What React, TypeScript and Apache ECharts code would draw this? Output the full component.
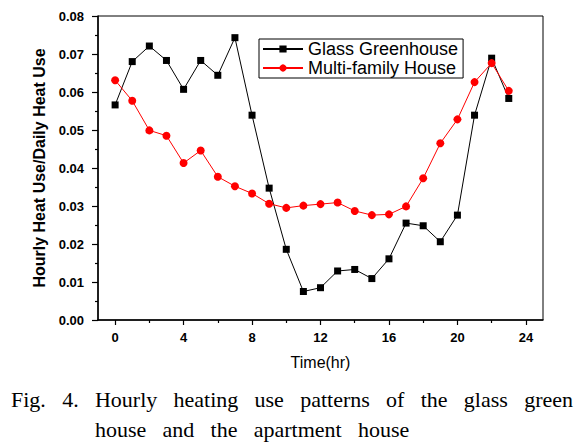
import React, { useEffect, useRef } from "react";
import * as echarts from "echarts";

const hours = [0, 1, 2, 3, 4, 5, 6, 7, 8, 9, 10, 11, 12, 13, 14, 15, 16, 17, 18, 19, 20, 21, 22, 23];
const glassGreenhouse = [
  0.0566, 0.068, 0.0721, 0.0683, 0.0607, 0.0683, 0.0644, 0.0743, 0.0539, 0.0347, 0.0186, 0.0075,
  0.0085, 0.0129, 0.0133, 0.0109, 0.0161, 0.0255, 0.0248, 0.0206, 0.0276, 0.0539, 0.0689, 0.0583,
];
const multiFamily = [
  0.0631, 0.0577, 0.0499, 0.0485, 0.0413, 0.0446, 0.0377, 0.0352, 0.0333, 0.0306, 0.0295, 0.0301,
  0.0305, 0.0309, 0.0287, 0.0276, 0.0278, 0.0299, 0.0373, 0.0465, 0.0528, 0.0626, 0.0676, 0.0603,
];
const xTickLabels = [0, 4, 8, 12, 16, 20, 24];
const xMinorTicks = [2, 6, 10, 14, 18, 22];
const seriesNames = ["Glass Greenhouse", "Multi-family House"];
const xTitle = "Time(hr)";
const yTitle = "Hourly Heat Use/Daily Heat Use";
const captionLine1 = ["Fig.", "4.", "Hourly", "heating", "use", "patterns", "of", "the", "glass", "green"];
const captionLine2 = ["house", "and", "the", "apartment", "house"];

const SANS = '"Liberation Sans", Arial, sans-serif';
const SERIF = '"Liberation Serif", "Times New Roman", serif';

function captionGraphics() {
  const fontSize = 22;
  const canvas = document.createElement("canvas");
  const ctx = canvas.getContext("2d")!;
  ctx.font = `${fontSize}px ${SERIF}`;
  const w1 = captionLine1.map((w) => ctx.measureText(w).width);
  const start1 = 11;
  const end1 = 573;
  const total1 = w1.reduce((a, b) => a + b, 0);
  const gap = (end1 - start1 - total1) / (captionLine1.length - 1);
  const els: any[] = [];
  let x = start1;
  let hourlyX = 92;
  captionLine1.forEach((w, i) => {
    if (i === 2) hourlyX = x;
    els.push({
      type: "text",
      x,
      y: 399,
      style: { text: w, fontSize, fontFamily: SERIF, fill: "#000", verticalAlign: "middle" },
    });
    x += w1[i] + gap;
  });
  x = hourlyX;
  captionLine2.forEach((w) => {
    els.push({
      type: "text",
      x,
      y: 429,
      style: { text: w, fontSize, fontFamily: SERIF, fill: "#000", verticalAlign: "middle" },
    });
    x += ctx.measureText(w).width + gap;
  });
  return els;
}

export default function App() {
  const ref = useRef<HTMLDivElement>(null);
  useEffect(() => {
    if (!ref.current) return;
    const chart = echarts.init(ref.current, null, { renderer: "svg" });
    const option: any = {
      animation: false,
      backgroundColor: "#fff",
      grid: {
        left: 98,
        top: 16,
        right: 44,
        bottom: 126,
        show: true,
        borderColor: "#000",
        borderWidth: 1,
        backgroundColor: "transparent",
      },
      legend: {
        orient: "vertical",
        left: 259,
        top: 39,
        data: seriesNames,
        borderColor: "#000",
        borderWidth: 1,
        backgroundColor: "#fff",
        padding: [1, 5, 1, 3],
        itemGap: 1,
        itemWidth: 40,
        itemHeight: 9,
        textStyle: { fontSize: 18, fontFamily: SANS, color: "#000" },
      },
      xAxis: [
        {
          type: "value",
          min: -1,
          max: 25,
          name: xTitle,
          nameLocation: "middle",
          nameGap: 34,
          nameTextStyle: { fontSize: 16, fontFamily: SANS, color: "#000" },
          axisLine: { show: true, onZero: false, lineStyle: { color: "#000", width: 1.5 } },
          axisTick: { show: true, inside: false, length: 5, customValues: xTickLabels, lineStyle: { color: "#000", width: 1.2 } },
          axisLabel: {
            customValues: xTickLabels,
            margin: 11,
            fontSize: 13,
            fontWeight: "bold",
            fontFamily: SANS,
            color: "#000",
          },
          splitLine: { show: false },
        },
        {
          type: "value",
          min: -1,
          max: 25,
          position: "bottom",
          axisLine: { show: false },
          axisTick: { show: true, inside: false, length: 3, customValues: xMinorTicks, lineStyle: { color: "#000", width: 1.2 } },
          axisLabel: { show: false },
          splitLine: { show: false },
        },
      ],
      yAxis: {
        type: "value",
        min: 0,
        max: 0.08,
        interval: 0.01,
        name: yTitle,
        nameLocation: "middle",
        nameGap: 50,
        nameTextStyle: { fontSize: 16, fontWeight: "bold", fontFamily: SANS, color: "#000" },
        axisLine: { show: true, onZero: false, lineStyle: { color: "#000", width: 1.5 } },
        axisTick: { show: true, inside: false, length: 6, lineStyle: { color: "#000", width: 1.2 } },
        minorTick: { show: true, splitNumber: 2, length: 3, lineStyle: { color: "#000", width: 1.2 } },
        axisLabel: {
          margin: 14,
          fontSize: 13,
          fontWeight: "bold",
          fontFamily: SANS,
          color: "#000",
          formatter: (v: number) => v.toFixed(2),
        },
        splitLine: { show: false },
      },
      series: [
        {
          name: seriesNames[0],
          type: "line",
          data: hours.map((h, i) => [h, glassGreenhouse[i]]),
          symbol: "rect",
          symbolSize: 7,
          itemStyle: { color: "#000" },
          lineStyle: { color: "#000", width: 1 },
          z: 2,
        },
        {
          name: seriesNames[1],
          type: "line",
          data: hours.map((h, i) => [h, multiFamily[i]]),
          symbol: "circle",
          symbolSize: 8,
          itemStyle: { color: "#ff0000" },
          lineStyle: { color: "#ff0000", width: 1 },
          z: 3,
        },
      ],
      graphic: captionGraphics(),
    };
    chart.setOption(option);
    return () => chart.dispose();
  }, []);
  return (
    <div
      ref={ref}
      style={{ position: "fixed", left: 0, top: 0, width: 587, height: 446, background: "#fff" }}
    />
  );
}
